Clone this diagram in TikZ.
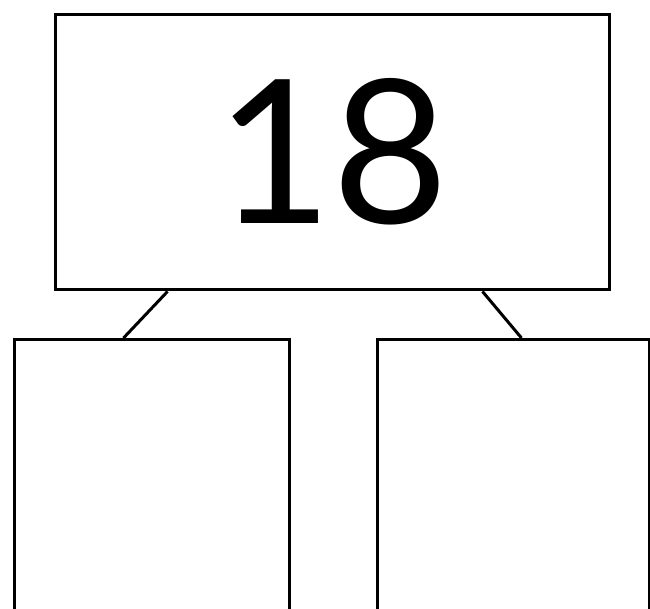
\documentclass[tikz,border=0pt]{standalone}
\usepackage{fontspec}
\setmainfont{Lato}
\usetikzlibrary{positioning}

\begin{document}
\begin{tikzpicture}[x=0.02cm,y=-0.02cm,line width=1.7pt,
    box/.style={draw,inner sep=0pt}]
%The page is the frame, the two lower boxes run past its bottom edge
\useasboundingbox (0,0) rectangle (650,609);
\clip (0,0) rectangle (650,609);
% the parent box with the number
\node[box,minimum width=11.1cm,minimum height=5.52cm] (top) at (332.5,152)
    {\fontsize{114}{114}\selectfont 18};
% the two empty children
\node[box,anchor=north,minimum width=5.52cm,minimum height=6cm] (left) at (152,338) {};
\node[box,anchor=north,minimum width=5.46cm,minimum height=6cm] (right) at (513.5,338) {};
\draw ([xshift=2.28cm]top.south west)--([xshift=2.22cm]left.north west);
\draw ([xshift=8.58cm]top.south west)--([xshift=2.92cm]right.north west);
\end{tikzpicture}
\end{document}
